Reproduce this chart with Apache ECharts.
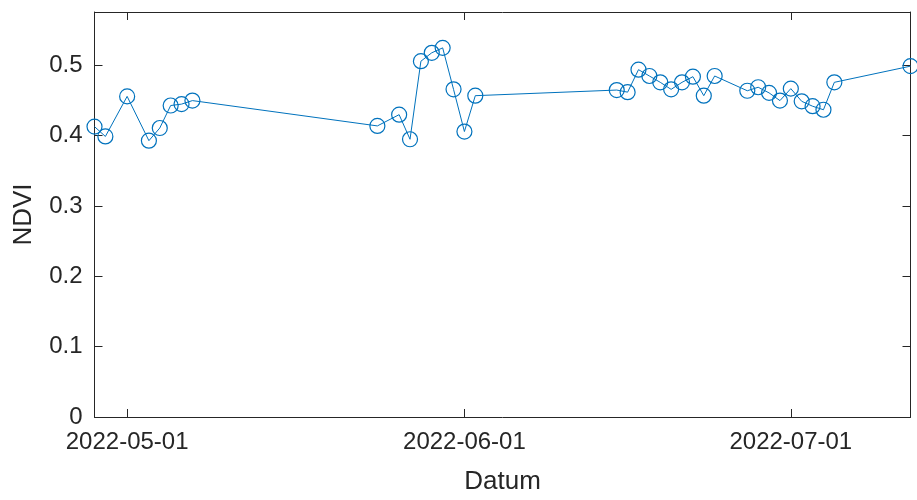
<!DOCTYPE html>
<html>
<head>
<meta charset="utf-8">
<script src="https://cdn.jsdelivr.net/npm/echarts@6/dist/echarts.min.js"></script>
<style>
html,body{margin:0;padding:0;background:#fff;}
#chart{width:917px;height:500px;}
</style>
</head>
<body>
<div id="chart"></div>
<script>
const dates = [
  '2022-04-28','2022-04-29','2022-05-01','2022-05-03','2022-05-04','2022-05-05','2022-05-06','2022-05-07',
  '2022-05-24','2022-05-26','2022-05-27','2022-05-28','2022-05-29','2022-05-30','2022-05-31','2022-06-01','2022-06-02',
  '2022-06-15','2022-06-16','2022-06-17','2022-06-18','2022-06-19','2022-06-20','2022-06-21','2022-06-22','2022-06-23','2022-06-24',
  '2022-06-27','2022-06-28','2022-06-29','2022-06-30','2022-07-01','2022-07-02','2022-07-03','2022-07-04','2022-07-05','2022-07-12'
];
const ndvi = [
  0.413,0.399,0.456,0.393,0.411,0.443,0.445,0.450,
  0.414,0.430,0.395,0.506,0.518,0.525,0.466,0.406,0.457,
  0.465,0.462,0.494,0.485,0.476,0.466,0.476,0.484,0.457,0.485,
  0.464,0.469,0.461,0.450,0.467,0.449,0.442,0.437,0.476,0.499
];
const xTickDates = ['2022-05-01','2022-06-01','2022-07-01'];
const yTicks = [0,0.1,0.2,0.3,0.4,0.5];
const xRange = ['2022-04-28','2022-07-12'];
const yRange = [0,0.576];

function ts(s){ const p = s.split('-').map(Number); return Date.UTC(p[0], p[1]-1, p[2]); }
function fmt(v){
  const d = new Date(v);
  const pad = n => (n<10?'0':'')+n;
  return d.getUTCFullYear()+'-'+pad(d.getUTCMonth()+1)+'-'+pad(d.getUTCDate());
}
const xTicks = xTickDates.map(ts);
const data = dates.map((d,i)=>[ts(d), ndvi[i]]);

const axisColor = '#262626';
const font = "'Liberation Sans', Arial, sans-serif";
const lineStyle = {color: axisColor, width: 1};

const chart = echarts.init(document.getElementById('chart'), null, {renderer:'canvas'});
chart.setOption({
  animation: false,
  backgroundColor: '#ffffff',
  grid: {left: 94.5, right: 6.5, top: 12, bottom: 80, containLabel: false},
  xAxis: [{
    type: 'value',
    min: ts(xRange[0]), max: ts(xRange[1]),
    position: 'bottom',
    name: 'Datum', nameLocation: 'middle', nameGap: 52,
    nameTextStyle: {color: axisColor, fontSize: 26, fontFamily: font},
    axisLine: {show: true, onZero: false, lineStyle: lineStyle},
    axisTick: {show: true, inside: true, length: 8, lineStyle: lineStyle, customValues: xTicks},
    axisLabel: {show: true, color: axisColor, fontSize: 24, fontFamily: font, margin: 13,
      customValues: xTicks, formatter: v => fmt(v), hideOverlap: false},
    splitLine: {show: false}
  },{
    type: 'value',
    min: ts(xRange[0]), max: ts(xRange[1]),
    position: 'top',
    axisLine: {show: true, onZero: false, lineStyle: lineStyle},
    axisTick: {show: true, inside: true, length: 8, lineStyle: lineStyle, customValues: xTicks},
    axisLabel: {show: false},
    splitLine: {show: false}
  }],
  yAxis: [{
    type: 'value',
    min: yRange[0], max: yRange[1],
    position: 'left',
    name: 'NDVI', nameLocation: 'middle', nameGap: 58,
    nameTextStyle: {color: axisColor, fontSize: 26, fontFamily: font},
    axisLine: {show: true, onZero: false, lineStyle: lineStyle},
    axisTick: {show: true, inside: true, length: 8, lineStyle: lineStyle, customValues: yTicks},
    axisLabel: {show: true, color: axisColor, fontSize: 24, fontFamily: font, margin: 12,
      customValues: yTicks, formatter: v => String(v)},
    splitLine: {show: false}
  },{
    type: 'value',
    min: yRange[0], max: yRange[1],
    position: 'right',
    axisLine: {show: true, onZero: false, lineStyle: lineStyle},
    axisTick: {show: true, inside: true, length: 8, lineStyle: lineStyle, customValues: yTicks},
    axisLabel: {show: false},
    splitLine: {show: false}
  }],
  series: [{
    type: 'line',
    xAxisIndex: 0, yAxisIndex: 0,
    data: data,
    symbol: 'circle',
    symbolSize: 15,
    showAllSymbol: true,
    clip: false,
    lineStyle: {color: '#0072BD', width: 1},
    itemStyle: {color: 'rgba(0,0,0,0)', borderColor: '#0072BD', borderWidth: 1.2},
    z: 3
  }]
});
</script>
</body>
</html>
